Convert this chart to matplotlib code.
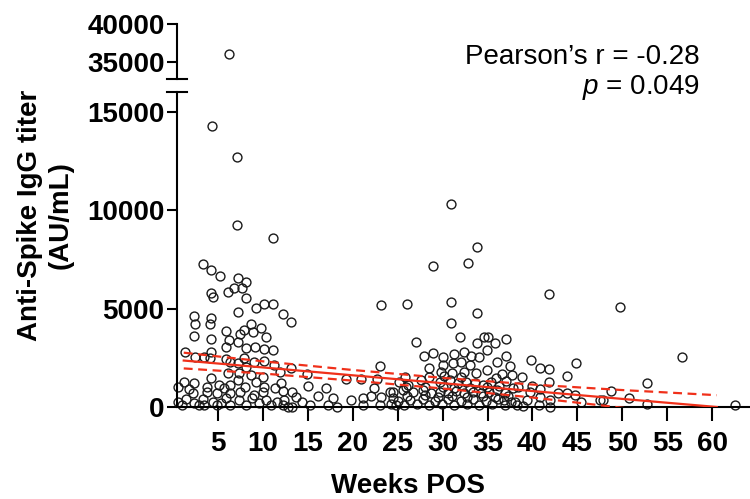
import matplotlib.pyplot as plt
import numpy as np

plt.rcParams['font.family'] = ['Liberation Sans', 'DejaVu Sans']
plt.rcParams['mathtext.fontset'] = 'custom'
plt.rcParams['mathtext.it'] = 'Liberation Sans:italic'
plt.rcParams['mathtext.rm'] = 'Liberation Sans'

# Weeks post-onset vs anti-spike IgG titer
weeks = [
    6.2,
    4.3, 7.1, 7.1, 11.1, 30.9, 33.8, 28.9, 32.8, 41.8, 26.0, 30.9, 49.7, 23.2,
    56.6, 52.7, 48.7, 50.7, 52.7, 47.8, 62.5,
    # early cluster
    3.3, 4.2, 5.2, 7.2, 8.1, 6.8, 7.7, 6.1, 4.2, 4.4, 8.1, 9.2, 10.1, 11.1, 12.2,
    7.2, 2.3, 2.4, 4.2, 4.1, 2.3, 4.2, 5.9, 6.2, 5.9, 7.5, 7.9, 8.7, 8.9, 9.8,
    10.4, 7.2, 8.1, 9.1, 10.1, 11.1, 1.3, 2.5, 3.4, 4.2, 4.1, 5.9, 6.3, 7.2, 8.1,
    7.9, 9.0, 10.1, 11.2, 11.9, 6.1, 7.4, 8.7, 10.0, 4.2, 1.2, 2.3, 0.6, 3.8, 5.1,
    5.7, 6.4, 7.2, 8.0, 9.2, 10.1, 11.3, 12.0, 2.2, 3.8, 4.9, 6.4, 7.5, 9.0, 10.0,
    0.6, 2.3, 3.3, 3.5, 4.4, 5.3, 5.9, 6.4, 7.4, 8.1, 8.8, 9.6, 10.3, 10.9, 11.6,
    12.2, 4.9, 2.9, 13.1, 1.0, 1.5, 1.8,
    # weeks 12-26
    13.1, 14.9, 23.0, 19.3, 20.9, 22.7, 22.4, 15.0, 17.0, 13.3, 16.1, 17.8, 13.7,
    14.4, 19.8, 21.1, 22.0, 23.2, 12.8, 13.3, 17.2, 18.3, 21.1, 23.0, 24.1, 24.5,
    24.8, 12.2, 12.4, 15.3, 25.8, 25.9,
    # weeks 24-37
    33.8, 30.9, 31.9, 27.0, 34.6, 35.0, 33.8, 35.8, 34.9, 27.9, 28.9, 30.0, 31.3,
    32.4, 33.2, 34.1, 30.0, 31.2, 32.1, 33.0, 34.9, 36.0, 28.5, 29.8, 31.0, 32.4,
    33.7, 28.5, 25.2, 26.1, 27.6, 29.7, 30.8, 31.7, 32.6, 33.6, 34.5, 35.4, 24.5,
    25.6, 26.7, 27.8, 28.7, 29.7, 30.6, 31.5, 32.4, 33.4, 34.3, 35.2, 36.0,
    24.3, 25.0, 25.7, 26.4, 27.1, 27.8, 28.5, 29.2, 29.9, 30.6, 31.3, 32.0, 32.7,
    33.4, 34.1, 34.8, 35.5, 36.2, 36.9, 37.6, 38.3, 39.0,
    26.0, 28.0, 29.5, 31.0, 32.7, 34.5, 35.8, 37.3,
    28.0, 30.0, 31.3, 33.0, 34.9, 36.3, 37.8,
    30.2, 32.0, 35.9, 37.0,
    # weeks 36-48
    37.1, 37.1, 37.5, 39.8, 40.8, 41.8, 44.8, 43.8, 38.8, 36.6, 37.7, 41.8, 39.9,
    38.4, 40.8, 42.8, 43.8, 44.7, 45.4, 41.9, 40.8, 39.7, 36.9, 36.8, 38.1, 39.4,
    40.7, 42.0, 47.5,
]
titer = [
    36050,
    14260, 12690, 9240, 8580, 10300, 8120, 7160, 7310, 5740, 5230, 5330, 5060, 5180,
    2530, 1220, 810, 470, 150, 350, 100,
    7260, 6950, 6650, 6530, 6360, 6030, 6060, 5820, 5770, 5600, 5520, 5040, 5210, 5210, 4700,
    4840, 4620, 4200, 4530, 4200, 3600, 3450, 3860, 3400, 3060, 3690, 3910, 4210, 3820, 4030,
    3570, 3310, 2980, 3060, 2940, 2890, 2780, 2520, 2520, 2780, 2470, 2440, 2300, 2220, 2050,
    2470, 2300, 2350, 2130, 1790, 1710, 1740, 1620, 1540, 1460, 1280, 1200, 1030, 1030, 1120,
    950, 1120, 1370, 1030, 1280, 1030, 950, 1200, 700, 780, 700, 700, 780, 610, 780,
    270, 190, 390, 100, 270, 190, 440, 100, 360, 100, 440, 190, 360, 100, 270,
    100, 100, 100, 4330, 100, 400, 900,
    2000, 1680, 2080, 1400, 1400, 1400, 950, 1080, 950, 780, 560, 440, 490,
    270, 360, 440, 560, 520, 0, 0, 100, 0, 100, 100, 780, 440,
    100, 830, 360, 100, 1540, 1030,
    4790, 4250, 3570, 3300, 3570, 3570, 3260, 3230, 2890, 2590, 2730, 2550, 2690,
    2810, 2590, 2550, 2130, 2220, 2300, 2130, 1880, 2300, 1960, 1790, 1740, 1790,
    1710, 1540, 1280, 1120, 1370, 1280, 1370, 1200, 1280, 1200, 1120, 1280, 780,
    860, 780, 860, 700, 780, 700, 830, 700, 780, 700, 780, 860,
    150, 300, 100, 350, 150, 400, 100, 300, 150, 400, 100, 300, 150,
    400, 100, 300, 150, 400, 100, 250, 100, 50,
    550, 600, 500, 550, 520, 560, 500, 560,
    1020, 1000, 960, 980, 1000, 1050, 950,
    1560, 1500, 1480, 1330,
    3440, 2590, 2100, 2390, 2000, 1930, 2250, 1590, 1540, 1680, 1620, 1280, 1070,
    1000, 900, 700, 700, 610, 270, 360, 520, 780, 700, 360, 270, 360,
    100, 20, 360,
]

# linear fit and 95% confidence band
fit_x = [1.2, 10, 20, 30, 40, 50, 60.5]
fit_y = [2360, 2010, 1610, 1210, 810, 410, 0]
ci_upper = [2760, 2320, 1880, 1480, 1140, 860, 600]
ci_lower = [1960, 1700, 1340, 940, 480, -40, -600]

x_ticks = [5, 10, 15, 20, 25, 30, 35, 40, 45, 50, 55, 60]

weeks = np.array(weeks)
titer = np.array(titer)
high = titer > 20000

fig = plt.figure(figsize=(7.5, 4.99), dpi=100)
ax = fig.add_axes([0.236, 0.1844, 0.764, 0.631])
ax_top = fig.add_axes([0.236, 0.8417, 0.764, 0.1102])

red = '#f0301a'
ax.plot(fit_x, fit_y, color=red, lw=1.6, zorder=3)
ax.plot(fit_x, ci_upper, color=red, lw=1.6, ls=(0, (4, 2.5)), zorder=3)
ax.plot(fit_x, ci_lower, color=red, lw=1.6, ls=(0, (4, 2.5)), zorder=3)

for a, m in [(ax, ~high), (ax_top, high)]:
    a.plot(weeks[m], titer[m], 'o', ms=6.4, mfc='none', mec='#1a1a1a', mew=1.0,
           clip_on=False, zorder=2)
    a.set_xlim(0.45, 64.2)
    a.spines['top'].set_visible(False)
    a.spines['right'].set_visible(False)
    a.spines['left'].set_linewidth(1.5)
    a.spines['bottom'].set_linewidth(1.5)
    a.tick_params(axis='y', length=7, width=1.5, pad=2, labelsize=20)
    a.tick_params(axis='x', length=10, width=1.5, pad=7, labelsize=20)

ax.set_ylim(0, 16000)
ax.set_yticks([0, 5000, 10000, 15000])
ax.set_xticks(x_ticks)
for lab in ax.get_yticklabels() + ax.get_xticklabels():
    lab.set_fontweight('bold')

ax_top.set_ylim(32750, 40000)
ax_top.set_yticks([35000, 40000])
ax_top.spines['bottom'].set_visible(False)
ax_top.set_xticks([])
for lab in ax_top.get_yticklabels():
    lab.set_fontweight('bold')

# axis break marks
brk = 0.0175
ax.plot([-brk, brk], [1, 1], transform=ax.transAxes, color='black', lw=1.5, clip_on=False)
ax_top.plot([-brk, brk], [0, 0], transform=ax_top.transAxes, color='black', lw=1.5, clip_on=False)

ax.set_xlabel('Weeks POS', fontsize=20, fontweight='bold')
ax.xaxis.set_label_coords(0.403, -0.21)
ax.set_ylabel('Anti-Spike IgG titer\n(AU/mL)', fontsize=20, fontweight='bold', linespacing=1.25)
ax.yaxis.set_label_coords(-0.18, 0.61)

fig.text(700 / 750, 1 - 57 / 499, 'Pearson\u2019s r = -0.28', fontsize=20, ha='right', va='center')
fig.text(700 / 750, 1 - 88 / 499, r'$p$ = 0.049', fontsize=20, ha='right', va='center')

fig.savefig('out.png', dpi=100)
